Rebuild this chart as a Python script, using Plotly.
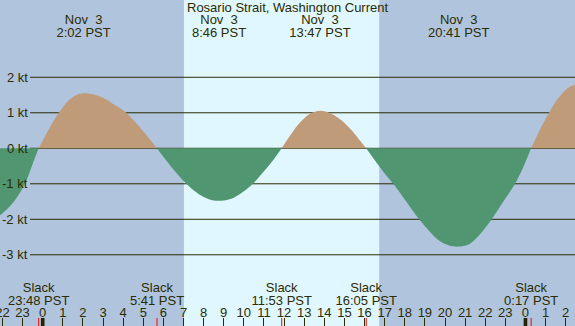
import plotly.graph_objects as go

# ---------------- data (hours from Nov 3 00:00 PST, knots) ----------------
station = "Rosario Strait, Washington Current"

current_hours = [-2.15, -1.75, -1.5, -1.25, -1.0, -0.75, -0.5, -0.2,
                 0.3, 0.8, 1.3, 1.7, 2.03, 2.5, 3.0, 3.5, 4.0, 4.5, 5.0, 5.68,
                 6.0, 6.5, 7.0, 7.5, 8.0, 8.5, 8.77, 9.0, 9.5, 10.0, 10.5, 11.0, 11.5, 11.88,
                 12.3, 12.8, 13.3, 13.78, 14.3, 14.8, 15.3, 15.7, 16.08,
                 16.5, 17.0, 17.43, 18.0, 18.72, 19.2, 19.7, 20.2, 20.68, 21.2, 21.7,
                 22.32, 22.9, 23.48, 23.9, 24.28,
                 24.7, 25.2, 25.7, 26.2, 26.67]
current_knots = [-1.9, -1.7, -1.55, -1.36, -1.12, -0.82, -0.44, 0,
                 0.53, 1.0, 1.35, 1.51, 1.55, 1.52, 1.42, 1.25, 1.07, 0.8, 0.48, 0,
                 -0.24, -0.6, -0.92, -1.18, -1.37, -1.47, -1.48, -1.47, -1.39, -1.21, -0.97, -0.65, -0.3, 0,
                 0.36, 0.73, 0.98, 1.06, 0.99, 0.81, 0.54, 0.27, 0,
                 -0.33, -0.71, -1.0, -1.44, -2.0, -2.32, -2.6, -2.74, -2.77, -2.7, -2.45,
                 -2.0, -1.5, -1.0, -0.52, 0,
                 0.5, 1.03, 1.46, 1.73, 1.82]

max_hours = [2.033, 8.767, 13.783, 20.683, 26.667]
max_dates = ["Nov\u00a0\u00a03", "Nov\u00a0\u00a03", "Nov\u00a0\u00a03", "Nov\u00a0\u00a03", "Nov\u00a0\u00a04"]
max_labels = ["2:02 PST", "8:46 PST", "13:47 PST", "20:41 PST", "2:40 PST"]

slack_hours = [-0.2, 5.683, 11.883, 16.083, 24.283]
slack_labels = ["23:48 PST", "5:41 PST", "11:53 PST", "16:05 PST", "0:17 PST"]

sunrise = 7.02
sunset = 16.73
midnights = [0, 24]

hour_ticks = list(range(-2, 27))
hour_labels = [str(h % 24) for h in hour_ticks]

level_ticks = [2, 1, 0, -1, -2, -3]
level_labels = ["2 kt", "1 kt", "0 kt", "-1 kt", "-2 kt", "-3 kt"]

# ---------------- styles ----------------
NIGHT = "#b0c4de"
DAY = "#e0f7ff"
FLOOD = "#c09b7a"
EBB = "#509671"
FG = "#2b2b00"
FONT = "Liberation Sans"
W, H = 575, 326

fig = go.Figure()

# split into lobes between slack (zero) points
lobes = []
cur_x, cur_y = [], []
for t, v in zip(current_hours, current_knots):
    cur_x.append(t)
    cur_y.append(v)
    if v == 0 and len(cur_x) > 1:
        lobes.append((cur_x, cur_y))
        cur_x, cur_y = [t], [v]
if len(cur_x) > 1:
    lobes.append((cur_x, cur_y))

for xs, ys in lobes:
    sign = max(ys, key=abs)
    fig.add_trace(go.Scatter(
        x=xs, y=ys, mode="lines",
        line=dict(width=0, shape="spline", smoothing=0.9),
        fill="tozeroy", fillcolor=FLOOD if sign > 0 else EBB,
        hoverinfo="skip", showlegend=False))

# bottom tick marks: slack (red) and midnight (thick)
sx, sy = [], []
for t in slack_hours:
    sx += [t, t, None]
    sy += [318, 326, None]
fig.add_trace(go.Scatter(x=sx, y=sy, yaxis="y2", mode="lines",
                         line=dict(color="#ff0000", width=1),
                         hoverinfo="skip", showlegend=False, cliponaxis=False))
mx, my = [], []
for t in midnights:
    mx += [t, t, None]
    my += [318, 326, None]
fig.add_trace(go.Scatter(x=mx, y=my, yaxis="y2", mode="lines",
                         line=dict(color="#1e1e00", width=3.6),
                         hoverinfo="skip", showlegend=False, cliponaxis=False))

txt_font = dict(family=FONT, size=13, color=FG)


def text_row(xs, texts, ypix):
    fig.add_trace(go.Scatter(x=xs, y=[ypix] * len(xs), yaxis="y2", mode="text",
                             text=texts, textposition="middle center",
                             textfont=txt_font, hoverinfo="skip",
                             showlegend=False, cliponaxis=False))


text_row(max_hours, max_dates, 20.8)
text_row(max_hours, max_labels, 33.3)
text_row(slack_hours, ["Slack"] * len(slack_hours), 289)
text_row(slack_hours, slack_labels, 301.7)
text_row(hour_ticks, hour_labels, 313.8)

shapes = [dict(type="rect", xref="x", yref="paper", x0=sunrise, x1=sunset, y0=0, y1=1,
               fillcolor=DAY, line=dict(width=0), layer="below")]
for v in level_ticks:
    shapes.append(dict(type="line", xref="paper", yref="y", x0=30 / W, x1=1, y0=v, y1=v,
                       line=dict(color=FG, width=1), layer="below"))

annotations = [dict(text=station, xref="paper", yref="y2", x=0.5, y=7.8,
                    xanchor="center", yanchor="middle", showarrow=False, font=txt_font)]
for v, lab in zip(level_ticks, level_labels):
    annotations.append(dict(text=lab, xref="paper", yref="y", x=30 / W, y=v,
                            xanchor="right", yanchor="middle", showarrow=False, font=txt_font))

fig.update_layout(
    width=W, height=H, margin=dict(l=0, r=0, t=0, b=0),
    paper_bgcolor=NIGHT, plot_bgcolor=NIGHT,
    font=txt_font,
    xaxis=dict(range=[-2.1228, 26.463], tickvals=hour_ticks, ticks="inside", ticklen=8,
               tickwidth=1, tickcolor=FG, showticklabels=False, showgrid=False,
               zeroline=False, showline=False, fixedrange=True),
    yaxis=dict(range=[-5.006, 4.177], visible=False, fixedrange=True),
    yaxis2=dict(range=[326, 0], overlaying="y", visible=False, fixedrange=True),
    shapes=shapes, annotations=annotations, showlegend=False,
)

fig.write_html("out.html", config={"displayModeBar": False},
               post_script="document.body.style.margin='0px';"
                           "document.body.style.padding='0px';"
                           "document.body.style.overflow='hidden';")
